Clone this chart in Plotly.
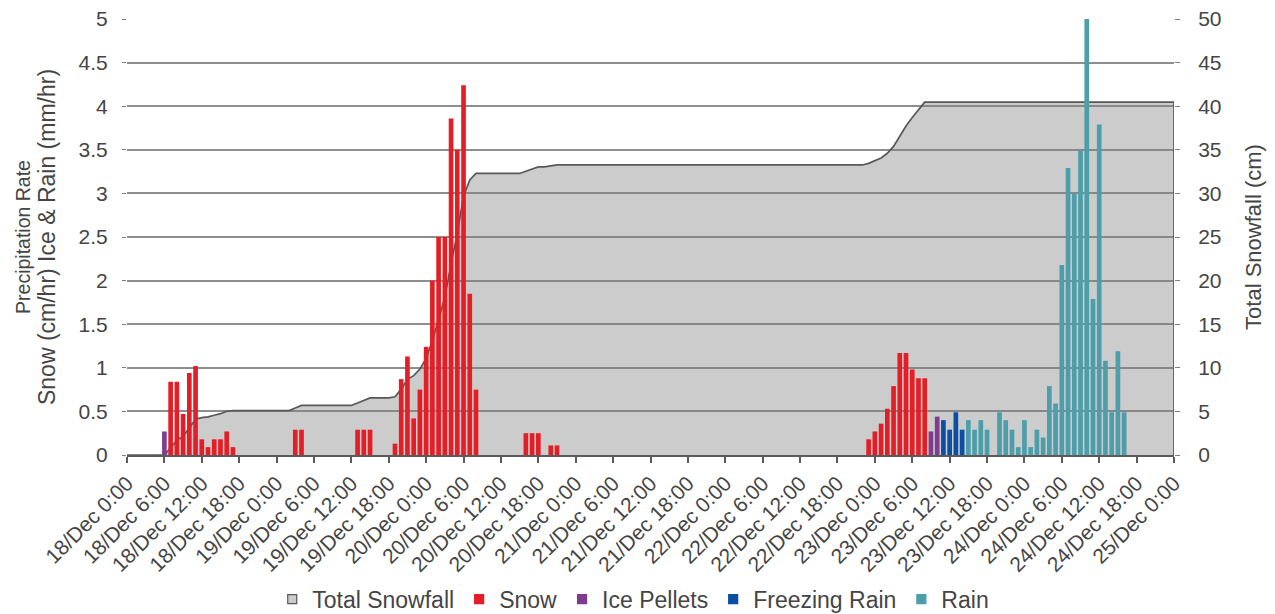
import pandas as pd
import plotly.graph_objects as go

START = pd.Timestamp("2019-12-18 00:00")
END_HOUR = 168

# Hourly precipitation rates (hour = hours after 18/Dec 0:00)
snow_hours = [7, 8, 9, 10, 11, 12, 13, 14, 15, 16, 17,
              27, 28, 37, 38, 39,
              43, 44, 45, 46, 47, 48, 49, 50, 51, 52, 53, 54, 55, 56,
              64, 65, 66, 68, 69,
              119, 120, 121, 122, 123, 124, 125, 126, 127, 128]
snow_rate = [0.84, 0.84, 0.47, 0.94, 1.02, 0.18, 0.09, 0.18, 0.18, 0.27, 0.09,
             0.29, 0.29, 0.29, 0.29, 0.29,
             0.13, 0.87, 1.13, 0.42, 0.75, 1.24, 2.00, 2.50, 2.50, 3.86, 3.50, 4.24, 1.85, 0.75,
             0.25, 0.25, 0.25, 0.11, 0.11,
             0.18, 0.27, 0.36, 0.53, 0.79, 1.17, 1.17, 0.98, 0.88, 0.88]

ice_hours = [6, 129, 130]
ice_rate = [0.27, 0.27, 0.44]

frz_hours = [131, 132, 133, 134]
frz_rate = [0.40, 0.29, 0.49, 0.29]

rain_hours = [135, 136, 137, 138,
              140, 141, 142, 143, 144, 145, 146, 147, 148, 149, 150,
              151, 152, 153, 154, 155, 156, 157, 158, 159, 160]
rain_rate = [0.40, 0.29, 0.40, 0.29,
             0.49, 0.40, 0.29, 0.09, 0.40, 0.09, 0.29, 0.20, 0.79, 0.59, 2.18,
             3.29, 3.00, 3.49, 5.00, 1.79, 3.79, 1.08, 0.49, 1.19, 0.49]

# Total snowfall (cm), one value per hour from 18/Dec 0:00 to 25/Dec 0:00
total_snowfall = (
    [0, 0, 0, 0, 0, 0, 0, 0.84, 1.68, 2.15, 3.09, 4.11, 4.29, 4.38, 4.56, 4.74,
     5.01, 5.10, 5.10, 5.10, 5.10, 5.10, 5.10, 5.10]                      # 18/Dec
    + [5.10, 5.10, 5.10, 5.39, 5.68, 5.68, 5.68, 5.68, 5.68, 5.68, 5.68, 5.68,
       5.68, 5.97, 6.26, 6.55, 6.55, 6.55, 6.55, 6.68, 7.55, 8.68, 9.10, 9.85]  # 19/Dec
    + [11.09, 13.09, 15.59, 18.09, 21.95, 25.45, 29.69, 31.54, 32.29, 32.29, 32.29, 32.29,
       32.29, 32.29, 32.29, 32.29, 32.54, 32.79, 33.04, 33.04, 33.15, 33.26, 33.26, 33.26]  # 20/Dec
    + [33.26] * 24                                                        # 21/Dec
    + [33.26] * 23 + [33.44]                                              # 22/Dec
    + [33.71, 34.07, 34.60, 35.39, 36.56, 37.73, 38.71, 39.59, 40.47] + [40.47] * 15  # 23/Dec
    + [40.47] * 24                                                        # 24/Dec
    + [40.47]                                                             # 25/Dec 0:00
)

tick_hours = list(range(0, END_HOUR + 1, 6))
tick_labels = [f"{d}/Dec {h}:00" for d in range(18, 25) for h in (0, 6, 12, 18)] + ["25/Dec 0:00"]

SNOW_C = "#E41E26"
ICE_C = "#803D8F"
FRZ_C = "#0B4EA2"
RAIN_C = "#4C9FAA"
AREA_LINE = "#585858"
TEXT_C = "#454545"
FONT = "Liberation Sans, Arial, sans-serif"
BAR_WIDTH_MS = 0.75 * 3600 * 1000


def to_time(hours):
    return [START + pd.Timedelta(hours=h) for h in hours]


fig = go.Figure()

# Total snowfall area on the right-hand axis, closed down to the baseline at the last hour
area_hours = list(range(len(total_snowfall))) + [len(total_snowfall) - 1]
area_values = total_snowfall + [0]
fig.add_trace(go.Scatter(
    x=to_time(area_hours), y=area_values, yaxis="y",
    mode="lines", fill="tozeroy", fillcolor="rgba(128,128,128,0.4)",
    line=dict(color=AREA_LINE, width=1.7), cliponaxis=False,
    showlegend=False, hoverinfo="skip",
))

series = [
    ("Snow", snow_hours, snow_rate, SNOW_C),
    ("Ice Pellets", ice_hours, ice_rate, ICE_C),
    ("Freezing Rain", frz_hours, frz_rate, FRZ_C),
    ("Rain", rain_hours, rain_rate, RAIN_C),
]
for name, hrs, vals, col in series:
    fig.add_trace(go.Bar(
        x=to_time(hrs), y=vals, yaxis="y2", name=name,
        marker=dict(color=col, line=dict(width=0)),
        width=BAR_WIDTH_MS, showlegend=False,
    ))

# Legend entries
legend_items = [("Total Snowfall", "#CCCCCC", AREA_LINE)] + [(n, c, c) for n, _, _, c in series]
for name, fill, edge in legend_items:
    fig.add_trace(go.Scatter(
        x=[None], y=[None], mode="markers", name=name,
        marker=dict(symbol="square", size=9, color=fill, line=dict(color=edge, width=1.2)),
    ))

left_title = ('Precipitation Rate<br>'
              '<span style="font-size:23px">Snow (cm/hr) Ice &amp; Rain (mm/hr)</span>')

fig.update_layout(
    width=1275, height=614,
    margin=dict(l=127, r=101, t=19, b=159, autoexpand=False),
    paper_bgcolor="white", plot_bgcolor="white",
    font=dict(family=FONT, color=TEXT_C, size=21),
    barmode="overlay",
    showlegend=True,
    legend=dict(
        orientation="h", x=0.4835, xanchor="center",
        yref="container", y=0.024, yanchor="middle",
        font=dict(size=23, color=TEXT_C), itemwidth=30,
        bgcolor="rgba(0,0,0,0)", traceorder="normal",
    ),
    xaxis=dict(
        type="date", automargin=False,
        range=[START, START + pd.Timedelta(hours=END_HOUR)],
        tickmode="array",
        tickvals=to_time(tick_hours), ticktext=tick_labels,
        tickangle=-45, tickfont=dict(size=21, color=TEXT_C),
        ticks="outside", ticklen=6, tickwidth=1.5, tickcolor="#5A5A5A",
        showline=True, linecolor="#5A5A5A", linewidth=1.7,
        showgrid=False, zeroline=False,
    ),
    yaxis=dict(
        side="right", range=[0, 50], dtick=5, tick0=0, automargin=False,
        title=dict(text="Total Snowfall (cm)", font=dict(size=22, color=TEXT_C), standoff=25),
        tickfont=dict(size=21, color=TEXT_C),
        ticks="outside", ticklen=5, tickwidth=1.2, tickcolor="#7F7F7F",
        ticklabelstandoff=14,
        showgrid=True, gridcolor="#8E8E8E", gridwidth=1.6,
        showline=False, zeroline=False,
    ),
    yaxis2=dict(
        overlaying="y", side="left", range=[0, 5], dtick=0.5, tick0=0, automargin=False,
        title=dict(text=left_title, font=dict(size=19.5, color=TEXT_C), standoff=17),
        tickfont=dict(size=21, color=TEXT_C),
        ticks="outside", ticklen=4, tickwidth=1.2, tickcolor="#7F7F7F",
        ticklabelstandoff=10,
        showgrid=False, showline=False, zeroline=False,
    ),
)

fig.write_html("out.html")
